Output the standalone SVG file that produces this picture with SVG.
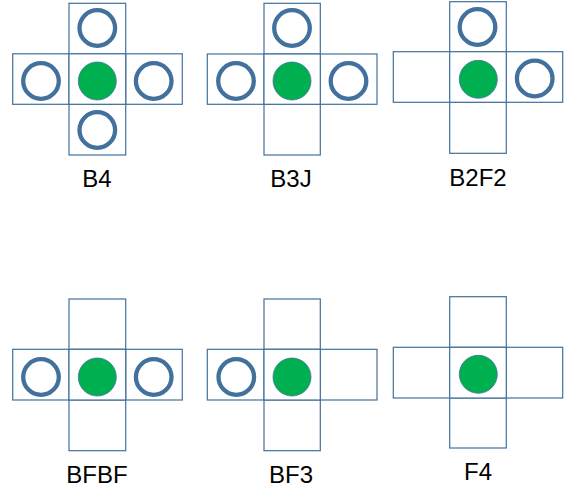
<svg xmlns="http://www.w3.org/2000/svg" width="571" height="491" viewBox="0 0 571 491">
<style>
.cell{fill:#ffffff;stroke:#41719C;stroke-width:1.2}
.ring{fill:none;stroke:#41719C;stroke-width:4.3}
.dot{fill:#00B050;stroke:#41719C;stroke-width:0.8}
.lbl{font-family:"Liberation Sans",Arial,sans-serif;font-size:24px;fill:#000000;text-anchor:middle}
</style>
<rect width="571" height="491" fill="#ffffff"/>

<g id="B4">
<rect class="cell" x="69" y="3.3" width="56.7" height="50.5"/>
<rect class="cell" x="12.7" y="53.8" width="56.3" height="50.5"/>
<rect class="cell" x="125.7" y="53.8" width="56.6" height="50.5"/>
<rect class="cell" x="69" y="104.3" width="56.7" height="50.7"/>
<rect class="cell" x="69" y="53.8" width="56.7" height="50.5"/>
<circle class="ring" cx="97.3" cy="28" r="17.8"/>
<circle class="ring" cx="41" cy="81" r="17.8"/>
<circle class="ring" cx="153.7" cy="81" r="17.8"/>
<circle class="ring" cx="97.3" cy="130" r="17.8"/>
<circle class="dot" cx="97.3" cy="81" r="19"/>
<text class="lbl" x="97" y="187">B4</text>
</g>

<g id="B3J">
<rect class="cell" x="264" y="3.3" width="56.3" height="50.7"/>
<rect class="cell" x="207.3" y="54" width="56.7" height="50.3"/>
<rect class="cell" x="320.3" y="54" width="56.7" height="50.3"/>
<rect class="cell" x="264" y="104.3" width="56.3" height="50.7"/>
<rect class="cell" x="264" y="54" width="56.3" height="50.3"/>
<circle class="ring" cx="292" cy="28" r="17.8"/>
<circle class="ring" cx="236" cy="81" r="17.8"/>
<circle class="ring" cx="348.5" cy="81" r="17.8"/>
<circle class="dot" cx="292" cy="81" r="19"/>
<text class="lbl" x="291" y="187">B3J</text>
</g>

<g id="B2F2">
<rect class="cell" x="449.7" y="1.7" width="56.6" height="50"/>
<rect class="cell" x="393.3" y="51.7" width="56.4" height="50.6"/>
<rect class="cell" x="506.3" y="51.7" width="56.4" height="50.6"/>
<rect class="cell" x="449.7" y="102.3" width="56.6" height="51"/>
<rect class="cell" x="449.7" y="51.7" width="56.6" height="50.6"/>
<circle class="ring" cx="477.5" cy="27" r="17.8"/>
<circle class="ring" cx="534.7" cy="78.5" r="17.8"/>
<circle class="dot" cx="478.3" cy="79.3" r="19"/>
<text class="lbl" x="478" y="186">B2F2</text>
</g>

<g id="BFBF">
<rect class="cell" x="69" y="299" width="56.7" height="50.3"/>
<rect class="cell" x="12.7" y="349.3" width="56.3" height="50.7"/>
<rect class="cell" x="125.7" y="349.3" width="56.6" height="50.7"/>
<rect class="cell" x="69" y="400" width="56.7" height="50.7"/>
<rect class="cell" x="69" y="349.3" width="56.7" height="50.7"/>
<circle class="ring" cx="41" cy="377" r="17.8"/>
<circle class="ring" cx="153.7" cy="377" r="17.8"/>
<circle class="dot" cx="97.3" cy="377" r="19"/>
<text class="lbl" x="97" y="483">BFBF</text>
</g>

<g id="BF3">
<rect class="cell" x="264" y="299" width="56.3" height="50.3"/>
<rect class="cell" x="207.3" y="349.3" width="56.7" height="50.7"/>
<rect class="cell" x="320.3" y="349.3" width="56.7" height="50.7"/>
<rect class="cell" x="264" y="400" width="56.3" height="50.7"/>
<rect class="cell" x="264" y="349.3" width="56.3" height="50.7"/>
<circle class="ring" cx="236.3" cy="377" r="17.8"/>
<circle class="dot" cx="292" cy="377" r="19"/>
<text class="lbl" x="291" y="483">BF3</text>
</g>

<g id="F4">
<rect class="cell" x="449.7" y="296.7" width="56.6" height="50.6"/>
<rect class="cell" x="393.3" y="347.3" width="56.4" height="50.7"/>
<rect class="cell" x="506.3" y="347.3" width="56.4" height="50.7"/>
<rect class="cell" x="449.7" y="398" width="56.6" height="50"/>
<rect class="cell" x="449.7" y="347.3" width="56.6" height="50.7"/>
<circle class="dot" cx="478.3" cy="374.3" r="19"/>
<text class="lbl" x="478" y="479.5">F4</text>
</g>
</svg>
